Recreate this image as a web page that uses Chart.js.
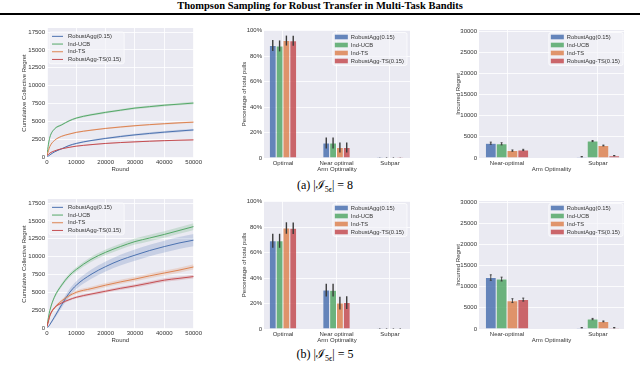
<!DOCTYPE html>
<html>
<head>
<meta charset="utf-8">
<script src="https://cdn.jsdelivr.net/npm/chart.js@4.4.1/dist/chart.umd.min.js"></script>
<style>
  body { margin: 0; width: 640px; height: 365px; background: #fff; position: relative; overflow: hidden; font-family: "Liberation Serif", "DejaVu Serif", serif; }
  canvas { position: absolute; }
  #title { position: absolute; left: 0; top: 0; width: 640px; text-align: center; font-weight: bold; font-size: 10.5px; line-height: 11px; }
  #rule { position: absolute; left: 0; top: 13px; width: 640px; height: 2px; background: #000; }
  .cap { position: absolute; left: 225px; width: 200px; text-align: center; font-size: 12px; line-height: 14px; }
  .cap sub { font-size: 8px; }
</style>
</head>
<body>
<div id="title">Thompson Sampling for Robust Transfer in Multi-Task Bandits</div>
<div id="rule"></div>

<canvas id="regretA" width="203" height="155" style="left:0;top:20px"></canvas>
<canvas id="pullsA" width="210" height="155" style="left:210px;top:20px"></canvas>
<canvas id="armRegretA" width="220" height="155" style="left:420px;top:20px"></canvas>
<div class="cap" style="top:178px">(a) |ℐ<sub>5ϵ</sub>| = 8</div>

<canvas id="regretB" width="203" height="155" style="left:0;top:191px"></canvas>
<canvas id="pullsB" width="210" height="155" style="left:210px;top:191px"></canvas>
<canvas id="armRegretB" width="220" height="155" style="left:420px;top:191px"></canvas>
<div class="cap" style="top:347px">(b) |ℐ<sub>5ϵ</sub>| = 5</div>

<script>
// --- Data ---
const methods = ['RobustAgg(0.15)', 'Ind-UCB', 'Ind-TS', 'RobustAgg-TS(0.15)'];
const lineColors = ['#4c72b0', '#55a868', '#dd8452', '#c44e52'];
const barColors = ['rgba(76,114,176,0.85)', 'rgba(85,168,104,0.85)', 'rgba(221,132,82,0.85)', 'rgba(196,78,82,0.85)'];

const rounds = [0, 500, 1000, 2500, 5000, 7500, 10000, 15000, 20000, 25000, 30000, 35000, 40000, 45000, 50000];
const roundTicks = [0, 10000, 20000, 30000, 40000, 50000];
const regretTicks = [0, 2500, 5000, 7500, 10000, 12500, 15000, 17500];
const pctTicks = [0, 20, 40, 60, 80, 100];
const armRegretTicks = [0, 5000, 10000, 15000, 20000, 25000, 30000];
const pullArms = ['Optimal', 'Near optimal', 'Subpar'];
const regretArms = ['Near-optimal', 'Subpar'];

// (a) cumulative collective regret, one row per method
const cumRegretA = [
  [100, 150, 300, 700, 1150, 1600, 1900, 2300, 2600, 2870, 3100, 3300, 3480, 3640, 3790],
  [250, 1800, 2800, 3900, 4500, 5050, 5450, 5900, 6250, 6550, 6850, 7050, 7250, 7400, 7550],
  [200, 900, 1500, 2300, 2900, 3200, 3450, 3750, 4000, 4200, 4380, 4530, 4660, 4780, 4880],
  [250, 350, 550, 850, 1150, 1350, 1520, 1730, 1900, 2020, 2120, 2210, 2290, 2350, 2400]
];
const bandA = [
  [0, 20, 40, 60, 80, 90, 100, 110, 120, 130, 140, 150, 150, 160, 160],
  [0, 60, 80, 100, 110, 120, 130, 140, 150, 150, 160, 160, 170, 170, 170],
  [0, 40, 50, 60, 70, 80, 80, 90, 90, 100, 100, 100, 110, 110, 110],
  [0, 20, 30, 40, 50, 60, 60, 70, 70, 70, 80, 80, 80, 80, 80]
];
// (b)
const cumRegretB = [
  [100, 200, 500, 1500, 3250, 4850, 6000, 7500, 8600, 9500, 10200, 10850, 11400, 11900, 12300],
  [300, 1500, 2500, 4300, 6000, 7300, 8200, 9600, 10600, 11400, 12100, 12600, 13100, 13650, 14200],
  [200, 1000, 1700, 2800, 3800, 4500, 5000, 5500, 6000, 6450, 6850, 7300, 7700, 8100, 8550],
  [200, 1000, 1800, 2800, 3500, 3950, 4300, 4750, 5150, 5550, 5900, 6300, 6700, 6950, 7200]
];
const bandB = [
  [0, 50, 100, 250, 400, 500, 550, 650, 700, 750, 780, 800, 820, 830, 850],
  [0, 100, 150, 200, 250, 300, 320, 350, 380, 400, 420, 440, 450, 460, 470],
  [0, 80, 100, 150, 200, 220, 250, 270, 290, 300, 320, 330, 340, 350, 360],
  [0, 80, 100, 120, 150, 170, 180, 200, 210, 220, 230, 240, 250, 250, 260]
];

// percentage of total pulls per arm class
const pullsA = [[88.2, 11.8, 0.05], [87.9, 11.7, 0.5], [92.1, 8.2, 0.4], [92.0, 8.3, 0.05]];
const pullsErrA = [[4.3, 4.3, 0.05], [4.3, 4.3, 0.2], [3.9, 3.9, 0.2], [3.9, 3.9, 0.05]];
const pullsB = [[69.3, 30.5, 0.2], [69.2, 30.4, 0.4], [79.2, 20.3, 0.5], [79.0, 20.7, 0.3]];
const pullsErrB = [[5.5, 5.0, 0.2], [5.5, 5.0, 0.2], [4.5, 5.0, 0.2], [4.5, 5.0, 0.2]];

// incurred regret per arm class
const armRegretA = [[3500, 300], [3350, 4000], [1750, 2950], [1900, 550]];
const armRegretErrA = [[250, 20], [250, 120], [150, 100], [150, 40]];
const armRegretB = [[12150, 300], [11800, 2350], [6700, 1800], [6950, 300]];
const armRegretErrB = [[650, 30], [450, 150], [450, 100], [350, 40]];

// --- Shared look ---
Chart.defaults.font.family = '"Liberation Sans", Arial, sans-serif';
Chart.defaults.font.size = 6;
Chart.defaults.color = '#333';
Chart.defaults.animation = false;

function withAlpha(hex, a) {
  const n = parseInt(hex.slice(1), 16);
  return `rgba(${n >> 16},${(n >> 8) & 255},${n & 255},${a})`;
}

// --- Plugins ---
const plotBg = {
  id: 'plotBg',
  beforeDraw(chart) {
    const { ctx, chartArea: a } = chart;
    ctx.save();
    ctx.fillStyle = '#eaeaf2';
    ctx.fillRect(a.left, a.top, a.right - a.left, a.bottom - a.top);
    ctx.restore();
  }
};

const errorBars = {
  id: 'errorBars',
  afterDatasetsDraw(chart, args, opts) {
    const { ctx } = chart;
    const y = chart.scales.y;
    ctx.save();
    ctx.strokeStyle = '#3a3a3a';
    ctx.lineWidth = opts.width;
    chart.data.datasets.forEach((ds, k) => {
      chart.getDatasetMeta(k).data.forEach((bar, i) => {
        const v = ds.data[i], e = opts.errors[k][i];
        const y0 = y.getPixelForValue(v - e), y1 = y.getPixelForValue(v + e);
        ctx.beginPath();
        ctx.moveTo(bar.x, y0);
        ctx.lineTo(bar.x, y1);
        if (opts.cap) {
          ctx.moveTo(bar.x - opts.cap, y0); ctx.lineTo(bar.x + opts.cap, y0);
          ctx.moveTo(bar.x - opts.cap, y1); ctx.lineTo(bar.x + opts.cap, y1);
        }
        ctx.stroke();
      });
    });
    ctx.restore();
  }
};

const innerLegend = {
  id: 'innerLegend',
  afterDraw(chart, args, opts) {
    const { ctx, chartArea: a } = chart;
    ctx.save();
    ctx.font = '5.8px "Liberation Sans", Arial, sans-serif';
    const textW = Math.max(...methods.map(m => ctx.measureText(m).width));
    const w = opts.textX + textW + 3;
    const h = opts.rowH * methods.length + 1;
    const x0 = opts.align === 'right' ? a.right - opts.dx - w : a.left + opts.dx;
    const y0 = a.top + opts.dy;
    ctx.fillStyle = 'rgba(244,244,248,0.6)';
    ctx.strokeStyle = 'rgba(255,255,255,0.9)';
    ctx.lineWidth = 0.8;
    ctx.beginPath();
    ctx.roundRect(x0, y0, w, h, 2);
    ctx.fill();
    ctx.stroke();
    methods.forEach((name, i) => {
      const yc = y0 + 0.5 + opts.rowH * (i + 0.5);
      if (opts.kind === 'line') {
        ctx.strokeStyle = lineColors[i];
        ctx.lineWidth = 1;
        ctx.beginPath();
        ctx.moveTo(x0 + 3, yc);
        ctx.lineTo(x0 + 14, yc);
        ctx.stroke();
      } else {
        ctx.fillStyle = barColors[i];
        ctx.fillRect(x0 + 2, yc - 2.3, 13, 4.6);
      }
      ctx.fillStyle = '#333';
      ctx.textBaseline = 'middle';
      ctx.fillText(name, x0 + opts.textX, yc);
    });
    ctx.restore();
  }
};

const gridStyle = { color: '#ffffff', lineWidth: 0.8, drawTicks: false };

// --- Chart builders ---
function regretChart(id, series, bands) {
  const lines = series.map((vals, k) => ({
    label: methods[k], data: vals, borderColor: lineColors[k], borderWidth: 1,
    pointRadius: 0, cubicInterpolationMode: 'monotone', fill: false
  }));
  const shades = [];
  series.forEach((vals, k) => {
    shades.push({ data: vals.map((v, i) => v + bands[k][i]), borderWidth: 0, pointRadius: 0, cubicInterpolationMode: 'monotone', fill: false });
    shades.push({ data: vals.map((v, i) => v - bands[k][i]), borderWidth: 0, pointRadius: 0, cubicInterpolationMode: 'monotone',
      fill: '-1', backgroundColor: withAlpha(lineColors[k], 0.22) });
  });
  return new Chart(document.getElementById(id), {
    type: 'line',
    data: { labels: rounds, datasets: lines.reverse().concat(shades) },
    plugins: [plotBg, innerLegend],
    options: {
      responsive: false,
      devicePixelRatio: 1,
      layout: { padding: { left: 21, top: 8, right: 9, bottom: 0 } },
      plugins: {
        legend: { display: false }, tooltip: { enabled: false },
        innerLegend: { kind: 'line', align: 'left', dx: 2, dy: 4, rowH: 7.7, textX: 19 }
      },
      scales: {
        x: {
          type: 'linear', min: 0, max: 50000,
          afterBuildTicks: s => { s.ticks = roundTicks.map(v => ({ value: v })); },
          afterFit: s => { s.height = 17; },
          ticks: { padding: 1, maxRotation: 0, callback: v => String(v) },
          grid: gridStyle, border: { display: false },
          title: { display: true, text: 'Round', padding: { top: 0, bottom: 2 } }
        },
        y: {
          min: -140, max: 18060,
          afterBuildTicks: s => { s.ticks = regretTicks.map(v => ({ value: v })); },
          afterFit: s => { s.width = 26; },
          ticks: { padding: 2, callback: v => String(v) },
          grid: gridStyle, border: { display: false },
          title: { display: true, text: 'Cumulative Collective Regret', padding: 0 }
        }
      }
    }
  });
}

function armBarChart(id, arms, values, errors, cfg) {
  return new Chart(document.getElementById(id), {
    type: 'bar',
    data: {
      labels: arms.map((_, i) => i),
      datasets: values.map((vals, k) => ({
        label: methods[k], data: vals, backgroundColor: barColors[k],
        borderColor: 'rgba(255,255,255,0.6)', borderWidth: 0.5,
        categoryPercentage: cfg.groupWidth, barPercentage: 1
      }))
    },
    plugins: [plotBg, errorBars, innerLegend],
    options: {
      responsive: false,
      devicePixelRatio: 1,
      layout: { padding: { left: cfg.padLeft, top: 10, right: cfg.padRight, bottom: 0 } },
      plugins: {
        legend: { display: false }, tooltip: { enabled: false },
        errorBars: { errors, width: cfg.errWidth, cap: cfg.cap },
        innerLegend: { kind: 'box', align: 'right', dx: cfg.legendDx, dy: 2.5, rowH: 8, textX: 18 }
      },
      scales: {
        x: {
          type: 'linear', min: cfg.xMin, max: cfg.xMax, offset: false,
          afterBuildTicks: s => { s.ticks = arms.map((_, i) => ({ value: i })); },
          afterFit: s => { s.height = 17; },
          ticks: { padding: 1.5, maxRotation: 0, autoSkip: false, callback: v => arms[v] },
          grid: Object.assign({ offset: false }, gridStyle), border: { display: false },
          title: { display: true, text: 'Arm Optimality', padding: { top: 0, bottom: 2 } }
        },
        y: {
          min: 0, max: cfg.yMax,
          afterBuildTicks: s => { s.ticks = cfg.yTicks.map(v => ({ value: v })); },
          afterFit: s => { s.width = cfg.axisWidth; },
          ticks: { padding: 2, callback: cfg.yFormat },
          grid: gridStyle, border: { display: false },
          title: { display: true, text: cfg.yTitle, padding: 0 }
        }
      }
    }
  });
}

const pullsCfg = {
  padLeft: 31, padRight: 10, axisWidth: 23, xMin: -0.355, xMax: 2.374, groupWidth: 0.51,
  yMax: 100.4, yTicks: pctTicks, yFormat: v => (v === 0 ? '0' : v + '%'),
  yTitle: 'Percentage of total pulls', errWidth: 1.4, cap: 0, legendDx: 3
};
const armRegretCfg = {
  padLeft: 35, padRight: 16, axisWidth: 24, xMin: -0.308, xMax: 1.286, groupWidth: 0.476,
  yMax: 30240, yTicks: armRegretTicks, yFormat: v => String(v),
  yTitle: 'Incurred Regret', errWidth: 0.9, cap: 1, legendDx: 1
};

// --- Render ---
regretChart('regretA', cumRegretA, bandA);
armBarChart('pullsA', pullArms, pullsA, pullsErrA, pullsCfg);
armBarChart('armRegretA', regretArms, armRegretA, armRegretErrA, armRegretCfg);
regretChart('regretB', cumRegretB, bandB);
armBarChart('pullsB', pullArms, pullsB, pullsErrB, pullsCfg);
armBarChart('armRegretB', regretArms, armRegretB, armRegretErrB, armRegretCfg);
</script>
</body>
</html>
